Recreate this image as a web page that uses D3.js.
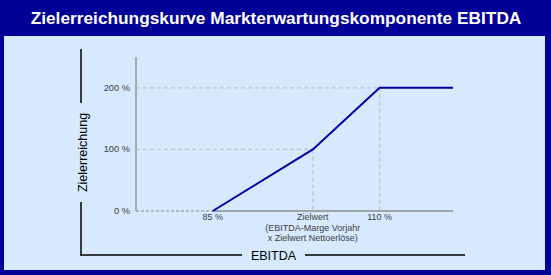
<!DOCTYPE html>
<html>
<head>
<meta charset="utf-8">
<script src="https://cdn.jsdelivr.net/npm/d3@7"></script>
<style>
  body { margin: 0; background: #000099; }
  svg { display: block; font-family: Arial, "Liberation Sans", Helvetica, sans-serif; }
</style>
</head>
<body>
<svg id="chart" width="551" height="275"></svg>
<script>
// curve data (EBITDA in % of target -> Zielerreichung in %)
const ebitda = [85, 100, 110, 121];
const zielerreichung = [0, 100, 200, 200];

const yTicks = [0, 100, 200];
const xTicks = [
  { v: 85, lines: ['85 %'] },
  { v: 100, lines: ['Zielwert', '(EBITDA-Marge Vorjahr', 'x Zielwert Nettoerlöse)'] },
  { v: 110, lines: ['110 %'] }
];
// dashed guides up to the kinks of the curve
const guides = [
  { x: 100, y: 100 },
  { x: 110, y: 200 }
];

const title = 'Zielerreichungskurve Markterwartungskomponente EBITDA';
const xTitle = 'EBITDA';
const yTitle = 'Zielerreichung';

const svg = d3.select('#chart');
const W = 551, H = 275;

// frame
svg.append('rect').attr('width', W).attr('height', H).attr('fill', '#000099');
svg.append('rect')
  .attr('x', 4).attr('y', 36).attr('width', 541).attr('height', 234)
  .attr('fill', '#d6e9ff');

svg.append('text')
  .attr('x', W / 2 + 0.5).attr('y', 24)
  .attr('text-anchor', 'middle')
  .attr('fill', '#ffffff')
  .attr('font-weight', 'bold')
  .attr('font-size', '17.3px')
  .text(title);

// scales
const x = d3.scaleLinear().domain([73.5, 121]).range([136, 453]);
const y = d3.scaleLinear().domain([0, 250]).range([211, 57]);

const plot = svg.append('g');
const grid = '#c2c2c2';
const axisCol = '#8c8c8c';

// dashed horizontal guides
plot.selectAll('.hguide')
  .data(guides)
  .join('line')
    .attr('class', 'hguide')
    .attr('x1', x(73.5)).attr('x2', d => x(d.x))
    .attr('y1', d => y(d.y)).attr('y2', d => y(d.y))
    .attr('stroke', grid).attr('stroke-width', 1.3)
    .attr('stroke-dasharray', '4,3');

// dashed vertical guides
plot.selectAll('.vguide')
  .data(guides)
  .join('line')
    .attr('class', 'vguide')
    .attr('x1', d => x(d.x)).attr('x2', d => x(d.x))
    .attr('y1', d => y(d.y)).attr('y2', y(0))
    .attr('stroke', grid).attr('stroke-width', 1.3)
    .attr('stroke-dasharray', '4,3');

// x axis: dashed before the threshold, solid afterwards
plot.append('line')
  .attr('x1', x(73.5)).attr('x2', x(ebitda[0]))
  .attr('y1', y(0)).attr('y2', y(0))
  .attr('stroke', '#a8a8a8').attr('stroke-width', 1.3)
  .attr('stroke-dasharray', '3,2');
plot.append('line')
  .attr('x1', x(ebitda[0])).attr('x2', x(121))
  .attr('y1', y(0)).attr('y2', y(0))
  .attr('stroke', axisCol).attr('stroke-width', 1.3);

// y axis
plot.append('line')
  .attr('x1', x(73.5)).attr('x2', x(73.5))
  .attr('y1', y(250)).attr('y2', y(0))
  .attr('stroke', axisCol).attr('stroke-width', 1.3);

// y tick labels
plot.selectAll('.ytick')
  .data(yTicks)
  .join('text')
    .attr('class', 'ytick')
    .attr('x', x(73.5) - 6)
    .attr('y', d => y(d) + 3)
    .attr('text-anchor', 'end')
    .attr('font-size', '9.3px')
    .attr('fill', '#404040')
    .text(d => `${d} %`);

// x tick labels
const xt = plot.selectAll('.xtick')
  .data(xTicks)
  .join('text')
    .attr('class', 'xtick')
    .attr('text-anchor', 'middle')
    .attr('font-size', '9px')
    .attr('fill', '#404040');
xt.selectAll('tspan')
  .data(d => d.lines.map(l => ({ v: d.v, l })))
  .join('tspan')
    .attr('x', d => x(d.v))
    .attr('y', (d, i) => 220 + i * 10.5)
    .text(d => d.l);

// curve
const line = d3.line()
  .x((d, i) => x(ebitda[i]))
  .y(d => y(d));
plot.append('path')
  .datum(zielerreichung)
  .attr('d', line)
  .attr('fill', 'none')
  .attr('stroke', '#0000a8')
  .attr('stroke-width', 2);

// outer L-shaped axis with titles
const outer = svg.append('g').attr('stroke', '#000000').attr('stroke-width', 1.5);
outer.append('line').attr('x1', 81).attr('x2', 81).attr('y1', 49).attr('y2', 103);
outer.append('line').attr('x1', 81).attr('x2', 81).attr('y1', 202).attr('y2', 255.5);
outer.append('line').attr('x1', 80.3).attr('x2', 242).attr('y1', 255).attr('y2', 255);
outer.append('line').attr('x1', 305).attr('x2', 465).attr('y1', 255).attr('y2', 255);

svg.append('text')
  .attr('x', 273.5).attr('y', 260)
  .attr('text-anchor', 'middle')
  .attr('font-size', '12.5px')
  .attr('fill', '#000000')
  .text(xTitle);

svg.append('text')
  .attr('transform', 'translate(86.5,152.5) rotate(-90)')
  .attr('text-anchor', 'middle')
  .attr('font-size', '12.5px')
  .attr('fill', '#000000')
  .text(yTitle);
</script>
</body>
</html>
